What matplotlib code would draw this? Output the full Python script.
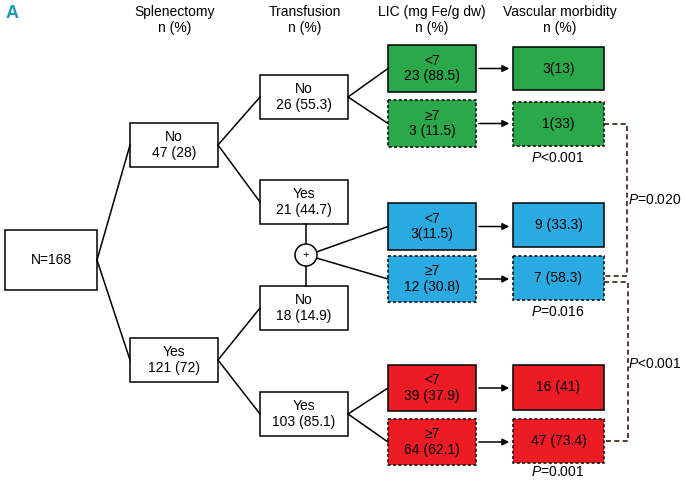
import matplotlib
matplotlib.use("Agg")
import matplotlib.pyplot as plt
from matplotlib.patches import Rectangle, Circle

plt.rcParams['font.family'] = ["Liberation Sans", 'DejaVu Sans']
plt.rcParams['mathtext.fontset'] = 'custom'
plt.rcParams['mathtext.it'] = 'Liberation Sans:italic'
plt.rcParams['mathtext.rm'] = 'Liberation Sans'

headers = ["Splenectomy\nn (%)", "Transfusion\nn (%)", "LIC (mg Fe/g dw)\nn (%)", "Vascular morbidity\nn (%)"]
root_label = "N=168"
splen_labels = ["No\n47 (28)", "Yes\n121 (72)"]
trans_labels = ["No\n26 (55.3)", "Yes\n21 (44.7)", "No\n18 (14.9)", "Yes\n103 (85.1)"]
lic_labels = ["<7\n23 (88.5)", "≥7\n3 (11.5)", "<7\n3(11.5)", "≥7\n12 (30.8)", "<7\n39 (37.9)", "≥7\n64 (62.1)"]
vasc_labels = ["3(13)", "1(33)", "9 (33.3)", "7 (58.3)", "16 (41)", "47 (73.4)"]
group_p = ["$P$<0.001", "$P$=0.016", "$P$=0.001"]
bracket_p = ["$P$=0.020", "$P$<0.001"]
group_colors = ["#2aa84a", "#29abe2", "#ec1c24"]

fig = plt.figure(figsize=(6.85, 4.84), dpi=100)
ax = fig.add_axes([0, 0, 1, 1])
ax.set_xlim(0, 685); ax.set_ylim(484, 0); ax.axis('off')

FS = 10
def box(x0, y0, x1, y1, text, fc="white", dashed=False):
    ax.add_patch(Rectangle((x0, y0), x1 - x0, y1 - y0, fc=fc, ec="black",
                           lw=1.1, ls=(0, (2, 1.5)) if dashed else "-"))
    ax.text((x0 + x1) / 2, (y0 + y1) / 2, text, ha="center", va="center",
            fontsize=FS, linespacing=1.15)

def line(p, q, **kw):
    ax.plot([p[0], q[0]], [p[1], q[1]], color="black", lw=1.1, **kw)

ax.text(12, 13, "A", fontsize=13, fontweight="bold", color="#1a9bb0", ha="center", va="center")
for x, h in zip([175, 305, 432, 560], headers):
    ax.text(x, 20, h, ha="center", va="center", fontsize=FS, linespacing=1.15)

box(5, 230, 97, 290, root_label)
sy = [(123, 167), (338, 382)]
for (a, b), t in zip(sy, splen_labels):
    box(130, a, 218, b, t)
    line((97, 260), (130, (a + b) / 2))
ty = [(75, 119), (180, 224), (286, 330), (392, 436)]
for i, ((a, b), t) in enumerate(zip(ty, trans_labels)):
    box(260, a, 348, b, t)
    s = sy[i // 2]
    line((218, (s[0] + s[1]) / 2), (260, (a + b) / 2))
ly = [(45, 92), (100, 147), (203, 250), (256, 302), (365, 411), (419, 465)]
vy = [(47, 90), (102, 146), (203, 247), (256, 300), (365, 410), (419, 463)]
for i in range(6):
    c = group_colors[i // 2]
    d = i % 2 == 1
    box(388, ly[i][0], 476, ly[i][1], lic_labels[i], fc=c, dashed=d)
    box(513, vy[i][0], 604, vy[i][1], vasc_labels[i], fc=c, dashed=d)
    ym = (ly[i][0] + ly[i][1]) / 2
    ax.annotate("", xy=(512, ym), xytext=(476, ym),
                arrowprops=dict(arrowstyle="-|>", color="black", lw=1.1, mutation_scale=10))
for i, tidx in [(0, 0), (1, 0), (4, 3), (5, 3)]:
    line((348, (ty[tidx][0] + ty[tidx][1]) / 2), (388, (ly[i][0] + ly[i][1]) / 2))
cx, cy, r = 306, 255, 11
ax.add_patch(Circle((cx, cy), r, fc="white", ec="black", lw=1.1, zorder=3))
ax.text(cx, cy, "+", ha="center", va="center", fontsize=8, zorder=4)
line((cx, ty[1][1]), (cx, cy - r))
line((cx, ty[2][0]), (cx, cy + r))
for i in (2, 3):
    ym = (ly[i][0] + ly[i][1]) / 2
    line((cx + r * 0.95, cy + (3 if i == 3 else -3)), (388, ym))

for y, t in zip([158, 312, 472], group_p):
    ax.text(558, y, t, ha="center", va="center", fontsize=FS)

dk = dict(ls=(0, (3, 2)), color="#3a1a10", lw=1.2)
ax.plot([604, 627, 627, 604], [124, 124, 276, 276], **dk)
ax.plot([604, 628, 628, 604], [282, 282, 441, 441], **dk)
ax.text(655, 200, bracket_p[0], ha="center", va="center", fontsize=FS)
ax.text(655, 364, bracket_p[1], ha="center", va="center", fontsize=FS)

fig.savefig("out.png", dpi=100)
